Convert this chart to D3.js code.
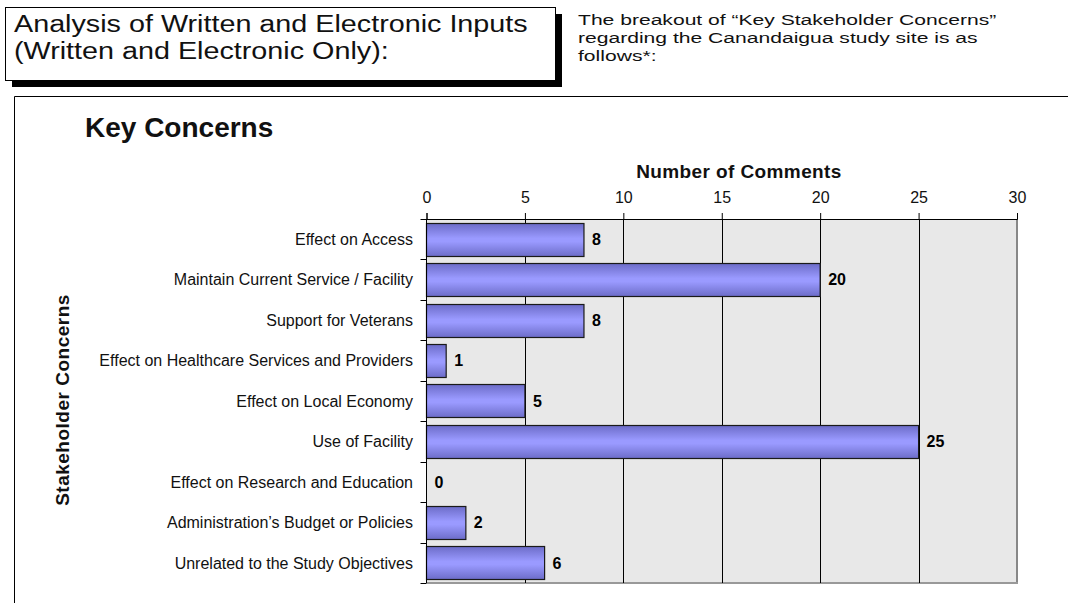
<!DOCTYPE html>
<html>
<head>
<meta charset="utf-8">
<script src="https://cdn.jsdelivr.net/npm/d3@7"></script>
<style>
  html, body { margin: 0; padding: 0; background: #fff; }
  svg { display: block; font-family: "Liberation Sans", Arial, sans-serif; }
</style>
</head>
<body>
<svg id="chart" width="1068" height="603"></svg>
<script>
// Stakeholder concern categories, top to bottom
const categories = [
  "Effect on Access",
  "Maintain Current Service / Facility",
  "Support for Veterans",
  "Effect on Healthcare Services and Providers",
  "Effect on Local Economy",
  "Use of Facility",
  "Effect on Research and Education",
  "Administration\u2019s Budget or Policies",
  "Unrelated to the Study Objectives"
];
// Number of comments per category
const comments = [8, 20, 8, 1, 5, 25, 0, 2, 6];
// Axis ticks
const xTicks = [0, 5, 10, 15, 20, 25, 30];

const svg = d3.select("#chart");

// ---- Header box with drop shadow ----
svg.append("rect").attr("x", 12).attr("y", 14).attr("width", 550).attr("height", 73).attr("fill", "#000");
svg.append("rect").attr("x", 5.5).attr("y", 7.5).attr("width", 550).attr("height", 73)
  .attr("fill", "#fff").attr("stroke", "#000").attr("stroke-width", 1);
const headerLines = ["Analysis of Written and Electronic Inputs", "(Written and Electronic Only):"];
svg.append("g").selectAll("text").data(headerLines).join("text")
  .attr("transform", (d, i) => `translate(14,${32 + i * 27}) scale(1.25,1)`)
  .attr("font-size", 23).attr("fill", "#111")
  .text(d => d);

// ---- Intro paragraph ----
const intro = [
  "The breakout of \u201cKey Stakeholder Concerns\u201d",
  "regarding the Canandaigua study site is as",
  "follows*:"
];
svg.append("g").selectAll("text").data(intro).join("text")
  .attr("transform", (d, i) => `translate(578,${25 + i * 18}) scale(1.36,1)`)
  .attr("font-size", 15.5).attr("fill", "#111").text(d => d);

// ---- Chart frame ----
svg.append("path").attr("d", "M14.5,603 V96.5 H1068").attr("fill", "none").attr("stroke", "#000");

svg.append("text").attr("x", 85).attr("y", 137).attr("font-size", 28).attr("font-weight", "bold")
  .attr("fill", "#111").text("Key Concerns");

// ---- Plot ----
const plot = { left: 426.5, right: 1017, top: 219, bottom: 583 };

const x = d3.scaleLinear().domain([0, 30]).range([plot.left, plot.right]);
const y = d3.scaleBand().domain(categories).range([plot.top, plot.bottom])
  .paddingInner(0.18).paddingOuter(0.09);

// plot area background
svg.append("rect").attr("x", plot.left).attr("y", plot.top)
  .attr("width", plot.right - plot.left).attr("height", plot.bottom - plot.top)
  .attr("fill", "#e8e8e8");

// right and bottom borders
svg.append("line").attr("x1", plot.right).attr("x2", plot.right)
  .attr("y1", plot.top).attr("y2", plot.bottom + 1)
  .attr("stroke", "#888").attr("stroke-width", 2);
svg.append("line").attr("x1", plot.left).attr("x2", plot.right + 1)
  .attr("y1", plot.bottom).attr("y2", plot.bottom)
  .attr("stroke", "#999").attr("stroke-width", 2);

// vertical gridlines
svg.append("g").selectAll("line").data(xTicks.filter(t => t > 0 && t < 30)).join("line")
  .attr("x1", d => Math.round(x(d)) + 0.5).attr("x2", d => Math.round(x(d)) + 0.5)
  .attr("y1", plot.top).attr("y2", plot.bottom)
  .attr("stroke", "#000").attr("stroke-width", 1);

// bar gradient
const defs = svg.append("defs");
const grad = defs.append("linearGradient").attr("id", "barGrad")
  .attr("x1", 0).attr("y1", 0).attr("x2", 0).attr("y2", 1);
grad.append("stop").attr("offset", "0%").attr("stop-color", "#6c6cc8");
grad.append("stop").attr("offset", "45%").attr("stop-color", "#9a9aff");
grad.append("stop").attr("offset", "55%").attr("stop-color", "#9a9aff");
grad.append("stop").attr("offset", "100%").attr("stop-color", "#6c6cc8");

// bars
const bars = categories.map((c, i) => ({ cat: c, val: comments[i] }));
svg.append("g").selectAll("rect").data(bars.filter(d => d.val > 0)).join("rect")
  .attr("x", x(0)).attr("y", d => Math.round(y(d.cat)) + 0.5)
  .attr("width", d => x(d.val) - x(0)).attr("height", Math.round(y.bandwidth()))
  .attr("fill", "url(#barGrad)").attr("stroke", "#1a1a1a").attr("stroke-width", 1.2);

// value labels
svg.append("g").selectAll("text").data(bars).join("text")
  .attr("x", d => x(d.val) + 8).attr("y", d => y(d.cat) + y.bandwidth() / 2)
  .attr("dy", "0.36em").attr("font-size", 16).attr("font-weight", "bold").attr("fill", "#000")
  .text(d => d.val);

// top axis
const xAxis = d3.axisTop(x).tickValues(xTicks).tickSize(6).tickPadding(10);
const gx = svg.append("g").attr("transform", `translate(0,${plot.top})`).call(xAxis);
gx.select(".domain").attr("stroke", "#000");
gx.selectAll(".tick line").attr("stroke", "#000");
gx.selectAll(".tick text").attr("font-size", 16).attr("fill", "#111")
  .attr("font-family", "Liberation Sans, Arial, sans-serif");

// left axis: ticks at band boundaries
const boundaries = categories.map(c => y(c) - y.step() * y.paddingInner() / 2);
boundaries.push(plot.bottom);
svg.append("line").attr("x1", plot.left).attr("x2", plot.left)
  .attr("y1", plot.top).attr("y2", plot.bottom).attr("stroke", "#000");
svg.append("g").selectAll("line").data(boundaries).join("line")
  .attr("x1", plot.left - 6).attr("x2", plot.left)
  .attr("y1", d => Math.round(d) + 0.5).attr("y2", d => Math.round(d) + 0.5)
  .attr("stroke", "#000");

// category labels
svg.append("g").selectAll("text").data(categories).join("text")
  .attr("x", 413).attr("y", d => y(d) + y.bandwidth() / 2).attr("dy", "0.36em")
  .attr("text-anchor", "end").attr("font-size", 16).attr("fill", "#111")
  .text(d => d);

// axis titles
svg.append("text").attr("x", 739).attr("y", 178).attr("text-anchor", "middle")
  .attr("font-size", 19).attr("letter-spacing", 0.4).attr("font-weight", "bold").attr("fill", "#111")
  .text("Number of Comments");
svg.append("text").attr("transform", "translate(69,400) rotate(-90)")
  .attr("text-anchor", "middle").attr("font-size", 19).attr("letter-spacing", 0.5)
  .attr("font-weight", "bold").attr("fill", "#111")
  .text("Stakeholder Concerns");
</script>
</body>
</html>
